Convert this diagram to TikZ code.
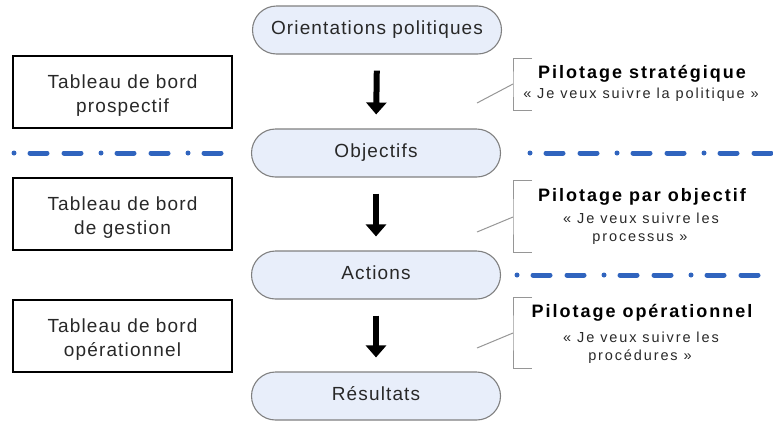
\documentclass[tikz,border=0pt]{standalone}
\usepackage{fontspec}
\setmainfont{Liberation Sans}
\newfontfamily\pillfont[LetterSpace=6]{Liberation Sans}
\newfontfamily\tbfont[LetterSpace=6]{Liberation Sans}
\newfontfamily\pilfont[LetterSpace=11]{Liberation Sans}
\newfontfamily\quotefont[LetterSpace=13]{Liberation Sans}
\usetikzlibrary{arrows.meta}

\definecolor{pillfill}{RGB}{232,238,250}
\definecolor{pillline}{RGB}{128,128,128}
\definecolor{sepblue}{RGB}{48,100,190}
\definecolor{bracketgray}{RGB}{150,150,150}
\definecolor{txtgray}{RGB}{40,40,40}

\tikzset{
  pill/.style={draw=pillline, line width=1.1pt, fill=pillfill, rounded corners=24pt,
    minimum width=249pt, minimum height=48pt, inner sep=0pt,
    text height=13.7pt, text depth=4pt, text=txtgray,
    font=\pillfont\fontsize{19}{23}\selectfont},
  tbox/.style={draw=black, line width=2pt, minimum width=219pt, minimum height=72pt,
    inner sep=0pt, align=center, text height=45pt, text depth=4pt, text=txtgray,
    font=\tbfont\fontsize{19}{24}\selectfont},
  flow/.style={line width=6pt, -{Triangle[width=20pt,length=12pt]},
    shorten <=16pt, shorten >=14pt},
  sepline/.style={sepblue, line width=5pt, line cap=round,
    dash pattern=on 0pt off 16pt on 17pt off 17pt on 17pt off 20pt},
  bracket/.style={bracketgray, line width=1pt},
  headtxt/.style={anchor=base, inner sep=0pt, text=black,
    font=\pilfont\bfseries\fontsize{18}{22}\selectfont},
  quotetxt/.style={anchor=base, inner sep=0pt, text=txtgray,
    font=\quotefont\fontsize{14.5}{18}\selectfont}
}

\begin{document}
\begin{tikzpicture}[x=1pt, y=-1pt]
  \useasboundingbox (0,0) rectangle (773,421);

  % central chain
  \node[pill] (orient) at (377,30)  {Orientations politiques};
  \node[pill] (obj)    at (376,153) {Objectifs};
  \node[pill] (act)    at (376,275) {Actions};
  \node[pill] (res)    at (376,396) {Résultats};

  \draw[flow] (orient.south) -- (obj.north);
  \draw[flow] (obj.south) -- (act.north);
  \draw[flow] (act.south) -- (res.north);

  % dashboards on the left
  \node[tbox] (tb1) at (122.5,91.5)  {Tableau de bord\\prospectif};
  \node[tbox] (tb2) at (122.5,213.5) {Tableau de bord\\de gestion};
  \node[tbox] (tb3) at (122.5,336)   {Tableau de bord\\opérationnel};

  % separators
  \coordinate (s1a) at (14,153);
  \coordinate (s1b) at (228,153);
  \coordinate (s2a) at (530,153);
  \coordinate (s2b) at (775,153);
  \coordinate (s3a) at (517,275);
  \coordinate (s3b) at (775,275);
  \draw[sepline] (s1a) -- (s1b);
  \draw[sepline] (s2a) -- (s2b);
  \draw[sepline] (s3a) -- (s3b);

  % steering levels on the right
  \coordinate (b1t) at (532,58);  \coordinate (b1b) at (532,110);
  \coordinate (b1m) at (513,84);  \coordinate (b1p) at (477,103);
  \draw[bracket] (b1t) -| (b1m) |- (b1b);
  \draw[bracket] (b1p) -- (b1m);
  \node[headtxt]  (p1h) at (642,78) {Pilotage stratégique};
  \node[quotetxt] (p1q) at (641,98) {« Je veux suivre la politique »};

  \coordinate (b2t) at (532,180); \coordinate (b2b) at (532,252);
  \coordinate (b2m) at (513,217); \coordinate (b2p) at (477,232);
  \draw[bracket] (b2t) -| (b2m) |- (b2b);
  \draw[bracket] (b2p) -- (b2m);
  \node[headtxt]  (p2h) at (642,201) {Pilotage par objectif};
  \node[quotetxt] (p2q) at (641,223) {« Je veux suivre les};
  \node[quotetxt] (p2r) at (640,241) {processus »};

  \coordinate (b3t) at (532,297); \coordinate (b3b) at (532,368);
  \coordinate (b3m) at (513,333); \coordinate (b3p) at (477,348);
  \draw[bracket] (b3t) -| (b3m) |- (b3b);
  \draw[bracket] (b3p) -- (b3m);
  \node[headtxt]  (p3h) at (642,317) {Pilotage opérationnel};
  \node[quotetxt] (p3q) at (641,342) {« Je veux suivre les};
  \node[quotetxt] (p3r) at (640,360) {procédures »};
\end{tikzpicture}
\end{document}
